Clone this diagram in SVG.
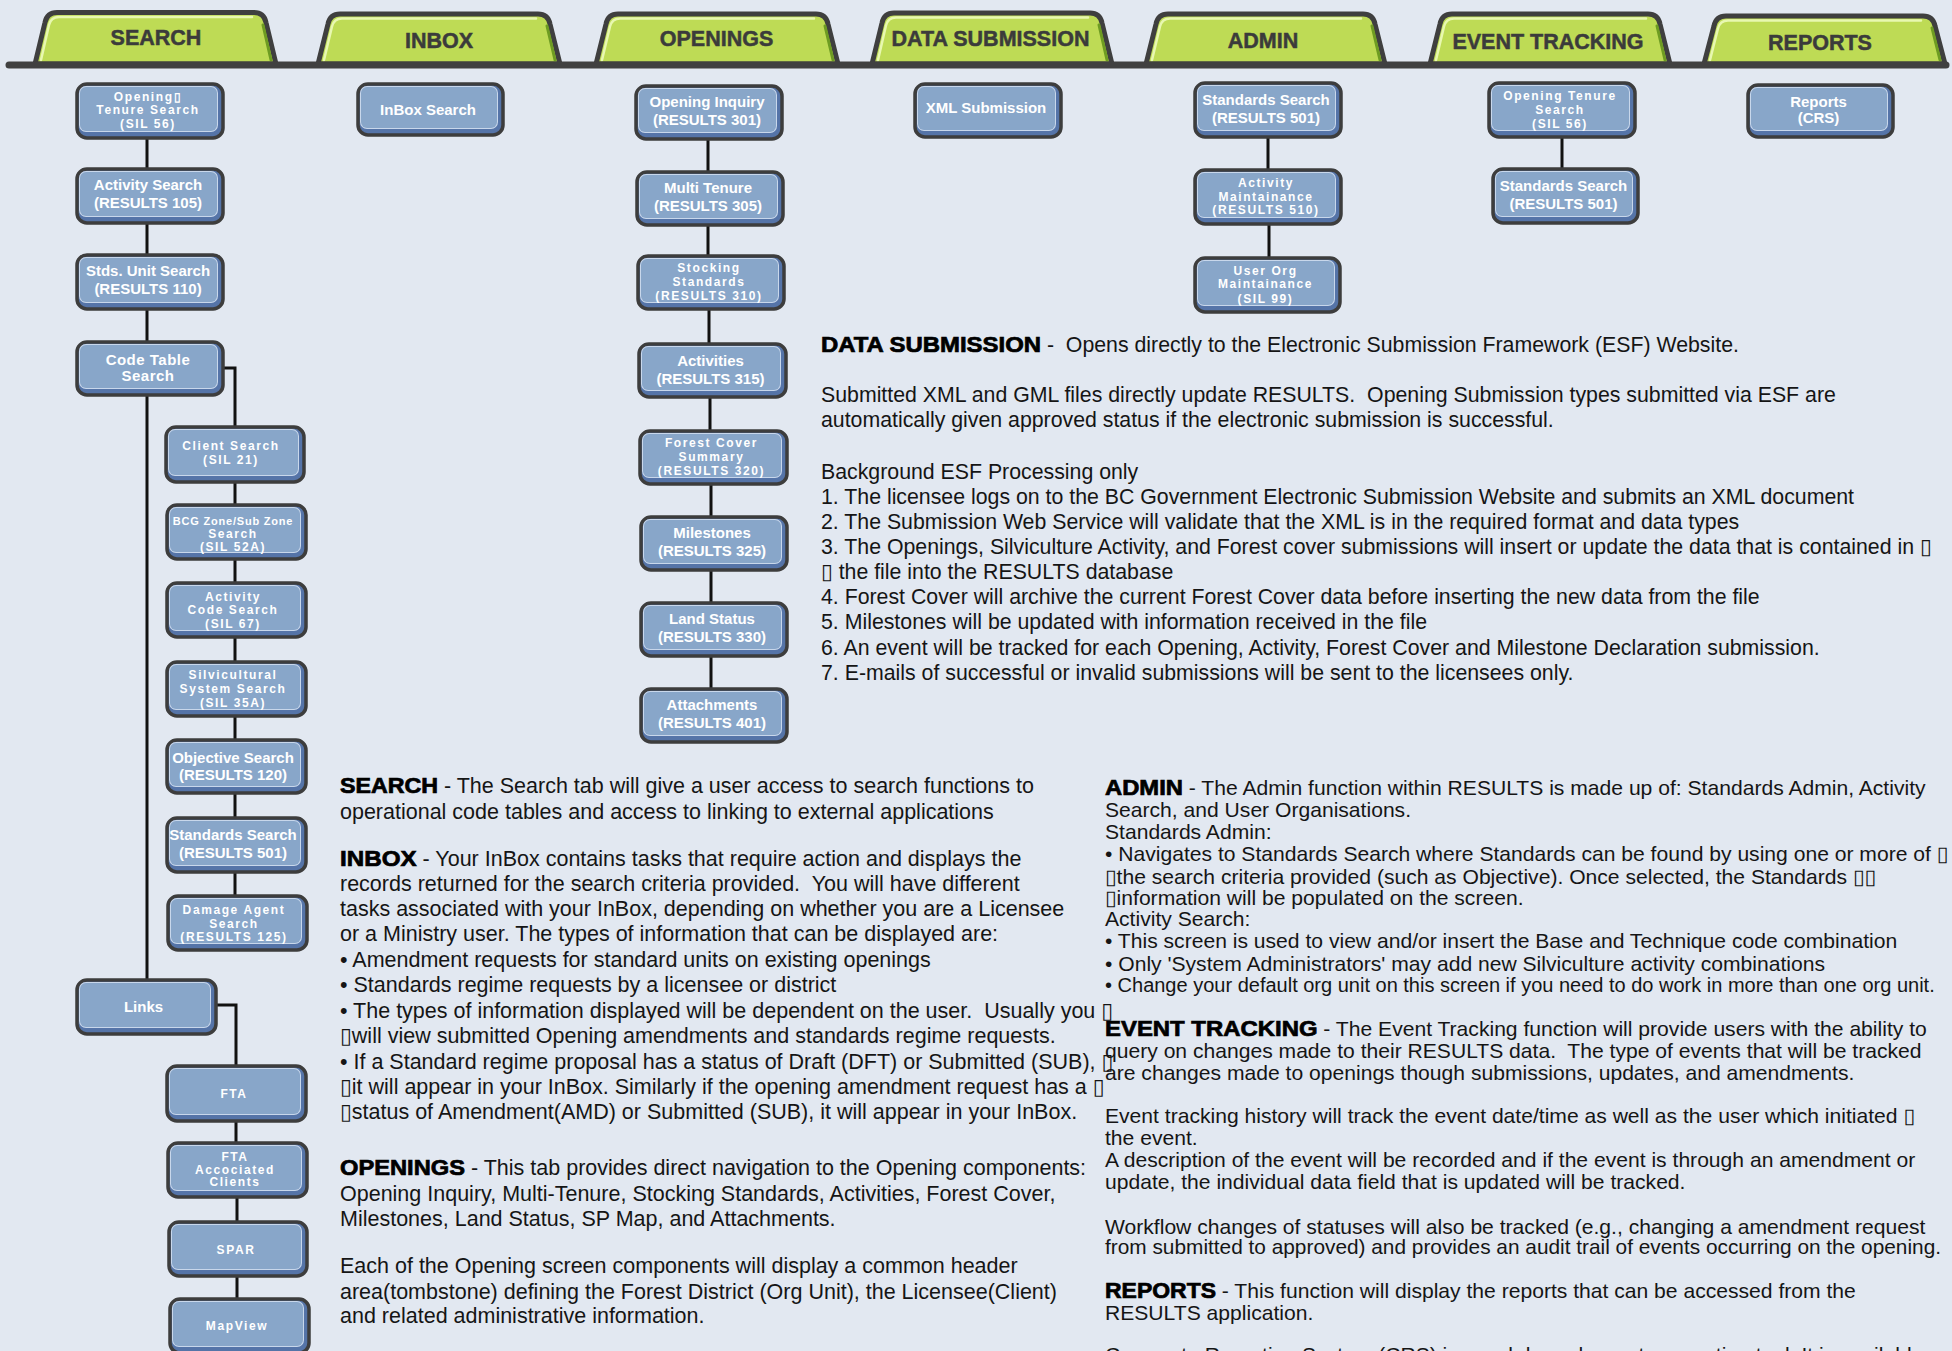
<svg xmlns="http://www.w3.org/2000/svg" width="1952" height="1351" viewBox="0 0 1952 1351">
<style>
.tabshape{fill:#bedb55;stroke:#3f3f3f;stroke-width:5;stroke-linejoin:round}
.tabhi{fill:none;stroke:#e8f8b0;stroke-width:2.5;stroke-linejoin:round;stroke-linecap:round}
.tabsh{fill:none;stroke:#6e9c22;stroke-width:3;stroke-linecap:round}
.tab{font-family:"Liberation Sans",Arial,sans-serif;font-weight:bold;font-size:21.5px;fill:#3b3b3b;stroke:#3b3b3b;stroke-width:0.5;text-anchor:middle}
.nb{fill:#5574a8;stroke:#3d3d3d;stroke-width:3.5}
.nh{fill:#c8d7eb}
.nf{fill:#88a6c9}
.nl{font-family:"Liberation Sans",Arial,sans-serif;font-weight:bold;fill:#ffffff;text-anchor:middle;font-size:15px}
.s12{font-size:12px;letter-spacing:1.6px}
.s11{font-size:11px;letter-spacing:0.8px}
.ls5{letter-spacing:0.5px}
.conn{fill:none;stroke:#111111;stroke-width:3}
.body{font-family:"Liberation Sans",Arial,"DejaVu Sans",sans-serif;fill:#151515;white-space:pre}
.b1{font-size:21.5px}
.b2{font-size:21.3px}
.b3{font-size:21.1px}
.b4{font-size:20px}
.hd{font-family:"Liberation Sans",Arial,sans-serif;font-weight:bold;fill:#000;stroke:#000;stroke-width:0.7;font-size:21.3px}
</style>
<rect x="0" y="0" width="1952" height="1351" fill="#e2e8f1"/>

<!-- Tabs -->
<g id="tabs">
<g id="tab-search">
<path class="tabshape" d="M35,64 L45,22.5 Q47,12.5 57,12.5 H254 Q264,12.5 266,22.5 L276,64 Z"/>
<path class="tabhi" d="M41,60 L49,25 Q51,17 59,17 H252"/>
<path class="tabsh" d="M263,25 L271,60"/>
<text class="tab" x="156" y="45">SEARCH</text>
</g>
<g id="tab-inbox">
<path class="tabshape" d="M318,64 L328,24 Q330,14 340,14 H538 Q548,14 550,24 L560,64 Z"/>
<path class="tabhi" d="M324,60 L332,26.5 Q334,18.5 342,18.5 H536"/>
<path class="tabsh" d="M547,26 L555,60"/>
<text class="tab" x="439" y="47.7">INBOX</text>
</g>
<g id="tab-openings">
<path class="tabshape" d="M596,64 L606,24 Q608,14 618,14 H816 Q826,14 828,24 L838,64 Z"/>
<path class="tabhi" d="M602,60 L610,26.5 Q612,18.5 620,18.5 H814"/>
<path class="tabsh" d="M825,26 L833,60"/>
<text class="tab" x="716.5" y="46.3">OPENINGS</text>
</g>
<g id="tab-data-submission">
<path class="tabshape" d="M872,64 L882,23 Q884,13 894,13 H1090 Q1100,13 1102,23 L1112,64 Z"/>
<path class="tabhi" d="M878,60 L886,25.5 Q888,17.5 896,17.5 H1088"/>
<path class="tabsh" d="M1099,25 L1107,60"/>
<text class="tab" x="990.5" y="46.3">DATA SUBMISSION</text>
</g>
<g id="tab-admin">
<path class="tabshape" d="M1146,64 L1156,24 Q1158,14 1168,14 H1363 Q1373,14 1375,24 L1385,64 Z"/>
<path class="tabhi" d="M1152,60 L1160,26.5 Q1162,18.5 1170,18.5 H1361"/>
<path class="tabsh" d="M1372,26 L1380,60"/>
<text class="tab" x="1263" y="47.7">ADMIN</text>
</g>
<g id="tab-event-tracking">
<path class="tabshape" d="M1430,64 L1440,24 Q1442,14 1452,14 H1648 Q1658,14 1660,24 L1670,64 Z"/>
<path class="tabhi" d="M1436,60 L1444,26.5 Q1446,18.5 1454,18.5 H1646"/>
<path class="tabsh" d="M1657,26 L1665,60"/>
<text class="tab" x="1548" y="48.7">EVENT TRACKING</text>
</g>
<g id="tab-reports">
<path class="tabshape" d="M1704,64 L1714,26 Q1716,16 1726,16 H1923 Q1933,16 1935,26 L1945,64 Z"/>
<path class="tabhi" d="M1710,60 L1718,28.5 Q1720,20.5 1728,20.5 H1921"/>
<path class="tabsh" d="M1932,28 L1940,60"/>
<text class="tab" x="1820" y="50">REPORTS</text>
</g>
<line id="tab-bar" x1="9" y1="65" x2="1946" y2="65" stroke="#404040" stroke-width="7" stroke-linecap="round"/>
</g>

<!-- Connectors -->
<g id="connectors">
<path class="conn" d="M147,138 V169 M147,223 V255 M147,309 V342 M147,395 V980"/>
<path class="conn" d="M223,368 H235 V427"/>
<path class="conn" d="M235,482 V505 M235,559 V583 M235,637 V662 M235,716 V740 M235,793 V818 M235,872 V896"/>
<path class="conn" d="M216,1005 H236 V1066"/>
<path class="conn" d="M236,1121 V1143 M237,1197 V1222 M237,1276 V1299"/>
<path class="conn" d="M708,139 V172 M708,225 V256 M709,309 V344 M710,397 V431 M711,484 V517 M711,570 V603 M711,656 V689"/>
<path class="conn" d="M1268,137 V170 M1269,224 V258"/>
<path class="conn" d="M1562,137 V169"/>
</g>

<!-- SEARCH nodes -->
<g id="n-opening-tenure-search">
<rect class="nb" x="77" y="84" width="146" height="54" rx="10"/><rect class="nh" x="79" y="86" width="139" height="46" rx="7"/><rect class="nf" x="80" y="87" width="137" height="44" rx="6"/>
<text class="nl s12" x="148" y="100.6">Opening▯</text><text class="nl s12" x="148" y="114.3">Tenure Search</text><text class="nl s12" x="148" y="128">(SIL 56)</text>
</g>
<g id="n-activity-search">
<rect class="nb" x="77" y="169" width="146" height="54" rx="10"/><rect class="nh" x="79" y="171" width="139" height="46" rx="7"/><rect class="nf" x="80" y="172" width="137" height="44" rx="6"/>
<text class="nl" x="148" y="190.4">Activity Search</text><text class="nl" x="148" y="208.4">(RESULTS 105)</text>
</g>
<g id="n-stds-unit-search">
<rect class="nb" x="77" y="255" width="146" height="54" rx="10"/><rect class="nh" x="79" y="257" width="139" height="46" rx="7"/><rect class="nf" x="80" y="258" width="137" height="44" rx="6"/>
<text class="nl" x="148" y="276.4">Stds. Unit Search</text><text class="nl" x="148" y="294.4">(RESULTS 110)</text>
</g>
<g id="n-code-table-search">
<rect class="nb" x="77" y="342" width="146" height="53" rx="10"/><rect class="nh" x="79" y="344" width="139" height="45" rx="7"/><rect class="nf" x="80" y="345" width="137" height="43" rx="6"/>
<text class="nl ls5" x="148" y="364.7">Code Table</text><text class="nl ls5" x="148" y="381.4">Search</text>
</g>
<g id="n-client-search">
<rect class="nb" x="166" y="427" width="138" height="55" rx="10"/><rect class="nh" x="168" y="429" width="131" height="47" rx="7"/><rect class="nf" x="169" y="430" width="129" height="45" rx="6"/>
<text class="nl s12" x="231" y="450.3">Client Search</text><text class="nl s12" x="231" y="464.3">(SIL 21)</text>
</g>
<g id="n-bcg-zone-search">
<rect class="nb" x="167" y="505" width="139" height="54" rx="10"/><rect class="nh" x="169" y="507" width="132" height="46" rx="7"/><rect class="nf" x="170" y="508" width="130" height="44" rx="6"/>
<text class="nl s11" x="233" y="524.7">BCG Zone/Sub Zone</text><text class="nl s12" x="233" y="537.8">Search</text><text class="nl s12" x="233" y="551">(SIL 52A)</text>
</g>
<g id="n-activity-code-search">
<rect class="nb" x="167" y="583" width="139" height="54" rx="10"/><rect class="nh" x="169" y="585" width="132" height="46" rx="7"/><rect class="nf" x="170" y="586" width="130" height="44" rx="6"/>
<text class="nl s12" x="233" y="601">Activity</text><text class="nl s12" x="233" y="614">Code Search</text><text class="nl s12" x="233" y="627.6">(SIL 67)</text>
</g>
<g id="n-silvicultural-system-search">
<rect class="nb" x="167" y="662" width="139" height="54" rx="10"/><rect class="nh" x="169" y="664" width="132" height="46" rx="7"/><rect class="nf" x="170" y="665" width="130" height="44" rx="6"/>
<text class="nl s12" x="233" y="679.3">Silvicultural</text><text class="nl s12" x="233" y="692.6">System Search</text><text class="nl s12" x="233" y="706.6">(SIL 35A)</text>
</g>
<g id="n-objective-search">
<rect class="nb" x="167" y="740" width="139" height="53" rx="10"/><rect class="nh" x="169" y="742" width="132" height="45" rx="7"/><rect class="nf" x="170" y="743" width="130" height="43" rx="6"/>
<text class="nl" x="233" y="762.7">Objective Search</text><text class="nl" x="233" y="779.7">(RESULTS 120)</text>
</g>
<g id="n-standards-search-1">
<rect class="nb" x="167" y="818" width="139" height="54" rx="10"/><rect class="nh" x="169" y="820" width="132" height="46" rx="7"/><rect class="nf" x="170" y="821" width="130" height="44" rx="6"/>
<text class="nl" x="233" y="840">Standards Search</text><text class="nl" x="233" y="857.5">(RESULTS 501)</text>
</g>
<g id="n-damage-agent-search">
<rect class="nb" x="168" y="896" width="139" height="54" rx="10"/><rect class="nh" x="170" y="898" width="132" height="46" rx="7"/><rect class="nf" x="171" y="899" width="130" height="44" rx="6"/>
<text class="nl s12" x="234" y="913.6">Damage Agent</text><text class="nl s12" x="234" y="927.6">Search</text><text class="nl s12" x="234" y="941">(RESULTS 125)</text>
</g>
<g id="n-links">
<rect class="nb" x="77" y="980" width="139" height="54" rx="10"/><rect class="nh" x="79" y="982" width="132" height="46" rx="7"/><rect class="nf" x="80" y="983" width="130" height="44" rx="6"/>
<text class="nl" x="143.5" y="1012">Links</text>
</g>
<g id="n-fta">
<rect class="nb" x="167" y="1066" width="139" height="55" rx="10"/><rect class="nh" x="169" y="1068" width="132" height="47" rx="7"/><rect class="nf" x="170" y="1069" width="130" height="45" rx="6"/>
<text class="nl s12" x="234" y="1097.6">FTA</text>
</g>
<g id="n-fta-associated-clients">
<rect class="nb" x="168" y="1143" width="139" height="54" rx="10"/><rect class="nh" x="170" y="1145" width="132" height="46" rx="7"/><rect class="nf" x="171" y="1146" width="130" height="44" rx="6"/>
<text class="nl s12" x="235" y="1161">FTA</text><text class="nl s12" x="235" y="1173.6">Accociated</text><text class="nl s12" x="235" y="1186.3">Clients</text>
</g>
<g id="n-spar">
<rect class="nb" x="169" y="1222" width="138" height="54" rx="10"/><rect class="nh" x="171" y="1224" width="131" height="46" rx="7"/><rect class="nf" x="172" y="1225" width="129" height="44" rx="6"/>
<text class="nl s12" x="236" y="1254.3">SPAR</text>
</g>
<g id="n-mapview">
<rect class="nb" x="170" y="1299" width="139" height="54" rx="10"/><rect class="nh" x="172" y="1301" width="132" height="46" rx="7"/><rect class="nf" x="173" y="1302" width="130" height="44" rx="6"/>
<text class="nl s12" x="237" y="1330.3">MapView</text>
</g>

<!-- INBOX -->
<g id="n-inbox-search">
<rect class="nb" x="358" y="84" width="145" height="51" rx="10"/><rect class="nh" x="360" y="86" width="138" height="43" rx="7"/><rect class="nf" x="361" y="87" width="136" height="41" rx="6"/>
<text class="nl" x="428" y="115">InBox Search</text>
</g>

<!-- OPENINGS -->
<g id="n-opening-inquiry">
<rect class="nb" x="636" y="86" width="146" height="53" rx="10"/><rect class="nh" x="638" y="88" width="139" height="45" rx="7"/><rect class="nf" x="639" y="89" width="137" height="43" rx="6"/>
<text class="nl" x="707" y="106.9">Opening Inquiry</text><text class="nl" x="707" y="124.9">(RESULTS 301)</text>
</g>
<g id="n-multi-tenure">
<rect class="nb" x="637" y="172" width="146" height="53" rx="10"/><rect class="nh" x="639" y="174" width="139" height="45" rx="7"/><rect class="nf" x="640" y="175" width="137" height="43" rx="6"/>
<text class="nl" x="708" y="192.9">Multi Tenure</text><text class="nl" x="708" y="210.9">(RESULTS 305)</text>
</g>
<g id="n-stocking-standards">
<rect class="nb" x="638" y="256" width="146" height="53" rx="10"/><rect class="nh" x="640" y="258" width="139" height="45" rx="7"/><rect class="nf" x="641" y="259" width="137" height="43" rx="6"/>
<text class="nl s12" x="709" y="272.1">Stocking</text><text class="nl s12" x="709" y="285.8">Standards</text><text class="nl s12" x="709" y="299.5">(RESULTS 310)</text>
</g>
<g id="n-activities">
<rect class="nb" x="639" y="344" width="147" height="53" rx="10"/><rect class="nh" x="641" y="346" width="140" height="45" rx="7"/><rect class="nf" x="642" y="347" width="138" height="43" rx="6"/>
<text class="nl" x="710.5" y="365.5">Activities</text><text class="nl" x="710.5" y="383.5">(RESULTS 315)</text>
</g>
<g id="n-forest-cover-summary">
<rect class="nb" x="640" y="431" width="147" height="53" rx="10"/><rect class="nh" x="642" y="433" width="140" height="45" rx="7"/><rect class="nf" x="643" y="434" width="138" height="43" rx="6"/>
<text class="nl s12" x="711.5" y="447.1">Forest Cover</text><text class="nl s12" x="711.5" y="460.8">Summary</text><text class="nl s12" x="711.5" y="474.5">(RESULTS 320)</text>
</g>
<g id="n-milestones">
<rect class="nb" x="641" y="517" width="146" height="53" rx="10"/><rect class="nh" x="643" y="519" width="139" height="45" rx="7"/><rect class="nf" x="644" y="520" width="137" height="43" rx="6"/>
<text class="nl" x="712" y="537.9">Milestones</text><text class="nl" x="712" y="555.9">(RESULTS 325)</text>
</g>
<g id="n-land-status">
<rect class="nb" x="641" y="603" width="146" height="53" rx="10"/><rect class="nh" x="643" y="605" width="139" height="45" rx="7"/><rect class="nf" x="644" y="606" width="137" height="43" rx="6"/>
<text class="nl" x="712" y="623.9">Land Status</text><text class="nl" x="712" y="641.9">(RESULTS 330)</text>
</g>
<g id="n-attachments">
<rect class="nb" x="641" y="689" width="146" height="53" rx="10"/><rect class="nh" x="643" y="691" width="139" height="45" rx="7"/><rect class="nf" x="644" y="692" width="137" height="43" rx="6"/>
<text class="nl" x="712" y="709.9">Attachments</text><text class="nl" x="712" y="727.9">(RESULTS 401)</text>
</g>

<!-- DATA SUBMISSION -->
<g id="n-xml-submission">
<rect class="nb" x="915" y="84" width="146" height="53" rx="10"/><rect class="nh" x="917" y="86" width="139" height="45" rx="7"/><rect class="nf" x="918" y="87" width="137" height="43" rx="6"/>
<text class="nl" x="986" y="113">XML Submission</text>
</g>

<!-- ADMIN -->
<g id="n-admin-standards-search">
<rect class="nb" x="1195" y="83" width="146" height="54" rx="10"/><rect class="nh" x="1197" y="85" width="139" height="46" rx="7"/><rect class="nf" x="1198" y="86" width="137" height="44" rx="6"/>
<text class="nl" x="1266" y="105">Standards Search</text><text class="nl" x="1266" y="123">(RESULTS 501)</text>
</g>
<g id="n-activity-maintainance">
<rect class="nb" x="1195" y="170" width="146" height="54" rx="10"/><rect class="nh" x="1197" y="172" width="139" height="46" rx="7"/><rect class="nf" x="1198" y="173" width="137" height="44" rx="6"/>
<text class="nl s12" x="1266" y="186.6">Activity</text><text class="nl s12" x="1266" y="201">Maintainance</text><text class="nl s12" x="1266" y="214.3">(RESULTS 510)</text>
</g>
<g id="n-user-org-maintainance">
<rect class="nb" x="1195" y="258" width="145" height="54" rx="10"/><rect class="nh" x="1197" y="260" width="138" height="46" rx="7"/><rect class="nf" x="1198" y="261" width="136" height="44" rx="6"/>
<text class="nl s12" x="1265.5" y="275">User Org</text><text class="nl s12" x="1265.5" y="288.3">Maintainance</text><text class="nl s12" x="1265.5" y="302.6">(SIL 99)</text>
</g>

<!-- EVENT TRACKING -->
<g id="n-event-opening-tenure-search">
<rect class="nb" x="1489" y="83" width="146" height="54" rx="10"/><rect class="nh" x="1491" y="85" width="139" height="46" rx="7"/><rect class="nf" x="1492" y="86" width="137" height="44" rx="6"/>
<text class="nl s12" x="1560" y="100.3">Opening Tenure</text><text class="nl s12" x="1560" y="114.3">Search</text><text class="nl s12" x="1560" y="127.6">(SIL 56)</text>
</g>
<g id="n-event-standards-search">
<rect class="nb" x="1493" y="169" width="145" height="54" rx="10"/><rect class="nh" x="1495" y="171" width="138" height="46" rx="7"/><rect class="nf" x="1496" y="172" width="136" height="44" rx="6"/>
<text class="nl" x="1563.5" y="191.4">Standards Search</text><text class="nl" x="1563.5" y="208.7">(RESULTS 501)</text>
</g>

<!-- REPORTS -->
<g id="n-reports-crs">
<rect class="nb" x="1748" y="85" width="145" height="52" rx="10"/><rect class="nh" x="1750" y="87" width="138" height="44" rx="7"/><rect class="nf" x="1751" y="88" width="136" height="42" rx="6"/>
<text class="nl" x="1818.5" y="107.4">Reports</text><text class="nl" x="1818.5" y="123.4">(CRS)</text>
</g>

<!-- DATA SUBMISSION description -->
<g id="text-data-submission">
<text class="hd" x="821" y="352" textLength="220" lengthAdjust="spacingAndGlyphs">DATA SUBMISSION</text>
<text class="body b2" x="1041" y="352"> -  Opens directly to the Electronic Submission Framework (ESF) Website.</text>
<text class="body b2" x="821" y="402">Submitted XML and GML files directly update RESULTS.  Opening Submission types submitted via ESF are</text>
<text class="body b2" x="821" y="427">automatically given approved status if the electronic submission is successful.</text>
<text class="body b2" x="821" y="478.7">Background ESF Processing only</text>
<text class="body b2" x="821" y="503.7">1. The licensee logs on to the BC Government Electronic Submission Website and submits an XML document</text>
<text class="body b2" x="821" y="528.7">2. The Submission Web Service will validate that the XML is in the required format and data types</text>
<text class="body b2" x="821" y="554.3">3. The Openings, Silviculture Activity, and Forest cover submissions will insert or update the data that is contained in ▯</text>
<text class="body b2" x="821" y="578.7">▯ the file into the RESULTS database</text>
<text class="body b2" x="821" y="604.3">4. Forest Cover will archive the current Forest Cover data before inserting the new data from the file</text>
<text class="body b2" x="821" y="629.3">5. Milestones will be updated with information received in the file</text>
<text class="body b2" x="821" y="655.3">6. An event will be tracked for each Opening, Activity, Forest Cover and Milestone Declaration submission.</text>
<text class="body b2" x="821" y="680.3">7. E-mails of successful or invalid submissions will be sent to the licensees only.</text>
</g>

<!-- Left description block -->
<g id="text-search-inbox-openings">
<text class="hd" x="340" y="793" textLength="98" lengthAdjust="spacingAndGlyphs">SEARCH</text>
<text class="body b1" x="438" y="793"> - The Search tab will give a user access to search functions to</text>
<text class="body b1" x="340" y="818.6">operational code tables and access to linking to external applications</text>
<text class="hd" x="340" y="865.8" textLength="76.6" lengthAdjust="spacingAndGlyphs">INBOX</text>
<text class="body b1" x="416.6" y="865.8"> - Your InBox contains tasks that require action and displays the</text>
<text class="body b1" x="340" y="890.6">records returned for the search criteria provided.  You will have different</text>
<text class="body b1" x="340" y="916">tasks associated with your InBox, depending on whether you are a Licensee</text>
<text class="body b1" x="340" y="941">or a Ministry user. The types of information that can be displayed are:</text>
<text class="body b1" x="340" y="966.8">• Amendment requests for standard units on existing openings</text>
<text class="body b1" x="340" y="992">• Standards regime requests by a licensee or district</text>
<text class="body b1" x="340" y="1017.7">• The types of information displayed will be dependent on the user.  Usually you ▯</text>
<text class="body b1" x="340" y="1043">▯will view submitted Opening amendments and standards regime requests.</text>
<text class="body b1" x="340" y="1068.5">• If a Standard regime proposal has a status of Draft (DFT) or Submitted (SUB), ▯</text>
<text class="body b1" x="340" y="1094">▯it will appear in your InBox. Similarly if the opening amendment request has a ▯</text>
<text class="body b1" x="340" y="1119.4">▯status of Amendment(AMD) or Submitted (SUB), it will appear in your InBox.</text>
<text class="hd" x="340" y="1174.8" textLength="125" lengthAdjust="spacingAndGlyphs">OPENINGS</text>
<text class="body b1" x="465" y="1174.8"> - This tab provides direct navigation to the Opening components:</text>
<text class="body b1" x="340" y="1201">Opening Inquiry, Multi-Tenure, Stocking Standards, Activities, Forest Cover,</text>
<text class="body b1" x="340" y="1226">Milestones, Land Status, SP Map, and Attachments.</text>
<text class="body b1" x="340" y="1273">Each of the Opening screen components will display a common header</text>
<text class="body b1" x="340" y="1298.5">area(tombstone) defining the Forest District (Org Unit), the Licensee(Client)</text>
<text class="body b1" x="340" y="1323">and related administrative information.</text>
</g>

<!-- Right description block -->
<g id="text-admin-event-reports">
<text class="hd" x="1105" y="795" textLength="78" lengthAdjust="spacingAndGlyphs">ADMIN</text>
<text class="body b3" x="1183" y="795"> - The Admin function within RESULTS is made up of: Standards Admin, Activity</text>
<text class="body b3" x="1105" y="817">Search, and User Organisations.</text>
<text class="body b3" x="1105" y="838.6">Standards Admin:</text>
<text class="body b3" x="1105" y="861">• Navigates to Standards Search where Standards can be found by using one or more of ▯</text>
<text class="body b3" x="1105" y="883.8">▯the search criteria provided (such as Objective). Once selected, the Standards ▯▯</text>
<text class="body b3" x="1105" y="905">▯information will be populated on the screen.</text>
<text class="body b3" x="1105" y="926">Activity Search:</text>
<text class="body b3" x="1105" y="948">• This screen is used to view and/or insert the Base and Technique code combination</text>
<text class="body b3" x="1105" y="970.5">• Only 'System Administrators' may add new Silviculture activity combinations</text>
<text class="body b4" x="1105" y="992.4">• Change your default org unit on this screen if you need to do work in more than one org unit.</text>
<text class="hd" x="1105" y="1035.7" textLength="212.5" lengthAdjust="spacingAndGlyphs">EVENT TRACKING</text>
<text class="body b3" x="1317.5" y="1035.7"> - The Event Tracking function will provide users with the ability to</text>
<text class="body b3" x="1105" y="1058">query on changes made to their RESULTS data.  The type of events that will be tracked</text>
<text class="body b3" x="1105" y="1079.8">are changes made to openings though submissions, updates, and amendments.</text>
<text class="body b3" x="1105" y="1123">Event tracking history will track the event date/time as well as the user which initiated ▯</text>
<text class="body b3" x="1105" y="1145">the event.</text>
<text class="body b3" x="1105" y="1167">A description of the event will be recorded and if the event is through an amendment or</text>
<text class="body b3" x="1105" y="1189">update, the individual data field that is updated will be tracked.</text>
<text class="body b3" x="1105" y="1233.6">Workflow changes of statuses will also be tracked (e.g., changing a amendment request</text>
<text class="body b3" x="1105" y="1254" textLength="836" lengthAdjust="spacingAndGlyphs">from submitted to approved) and provides an audit trail of events occurring on the opening.</text>
<text class="hd" x="1105" y="1297.7" textLength="111" lengthAdjust="spacingAndGlyphs">REPORTS</text>
<text class="body b3" x="1216" y="1297.7"> - This function will display the reports that can be accessed from the</text>
<text class="body b3" x="1105" y="1320">RESULTS application.</text>
<text class="body b3" x="1105" y="1362">Corporate Reporting System (CRS) is a web based report generation tool. It is available</text>
</g>
</svg>
